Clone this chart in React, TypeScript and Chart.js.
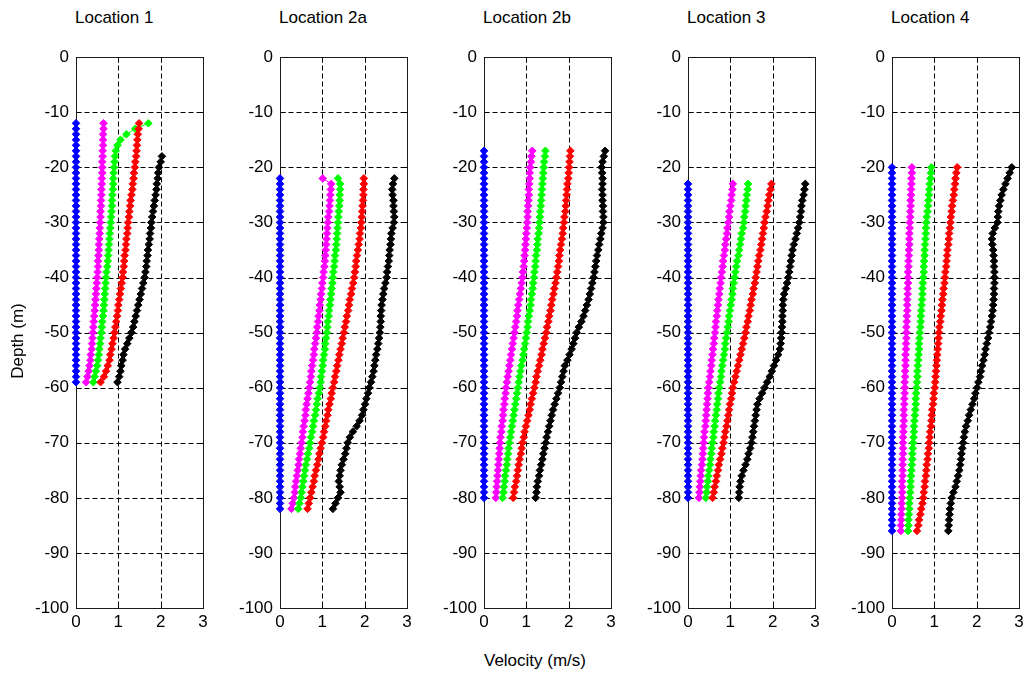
import { useEffect, useRef } from "react";
import { Chart, registerables } from "chart.js";
Chart.register(...registerables);

// ---------- data ----------
const locationTitles = ["Location 1", "Location 2a", "Location 2b", "Location 3", "Location 4"];
const xTickValues = [0, 1, 2, 3];
const yTickValues = [0, -10, -20, -30, -40, -50, -60, -70, -80, -90, -100];
const seriesColors = ["#0000ff", "#ff00ff", "#00ff00", "#ff0000", "#000000"];

// Location 1
const depth1 = [-12,-13,-14,-15,-16,-17,-18,-19,-20,-21,-22,-23,-24,-25,-26,-27,-28,-29,-30,-31,-32,-33,-34,-35,-36,-37,-38,-39,-40,-41,-42,-43,-44,-45,-46,-47,-48,-49,-50,-51,-52,-53,-54,-55,-56,-57,-58,-59];
const depth1Black = [-18,-19,-20,-21,-22,-23,-24,-25,-26,-27,-28,-29,-30,-31,-32,-33,-34,-35,-36,-37,-38,-39,-40,-41,-42,-43,-44,-45,-46,-47,-48,-49,-50,-51,-52,-53,-54,-55,-56,-57,-58,-59];
const blue1 = [0,0,0,0,0,0,0,0,0,0, 0,0,0,0,0,0,0,0,0,0, 0,0,0,0,0,0,0,0,0,0, 0,0,0,0,0,0,0,0,0,0, 0,0,0,0,0,0,0,0];
const magenta1 = [0.65,0.65,0.64,0.64,0.64,0.63,0.63,0.62,0.62, 0.62,0.61,0.61,0.60,0.60,0.59,0.59,0.58,0.58,0.57, 0.56,0.56,0.55,0.54,0.54,0.53,0.52,0.52,0.51,0.50, 0.49,0.48,0.47,0.46,0.45,0.44,0.43,0.42,0.41,0.40, 0.39,0.38,0.37,0.35,0.34,0.32,0.30,0.27,0.24];
const green1 = [1.71,1.40,1.19,1.05,0.98,0.94,0.92,0.91,0.90, 0.89,0.88,0.88,0.87,0.86,0.85,0.85,0.84,0.83,0.82, 0.81,0.80,0.79,0.78,0.77,0.76,0.75,0.74,0.72,0.71, 0.70,0.69,0.68,0.67,0.66,0.65,0.64,0.62,0.61,0.60, 0.58,0.57,0.55,0.54,0.52,0.50,0.47,0.44,0.41];
const red1 = [1.49,1.48,1.46,1.45,1.44,1.43,1.42,1.40,1.39, 1.37,1.36,1.34,1.33,1.31,1.29,1.28,1.26,1.25,1.23, 1.22,1.21,1.19,1.18,1.17,1.15,1.14,1.13,1.11,1.10, 1.08,1.06,1.04,1.02,1.00,0.99,0.97,0.95,0.93,0.91, 0.89,0.86,0.84,0.81,0.79,0.75,0.71,0.66,0.58];
const black1 = [2.03,2.00,1.96, 1.94,1.93,1.91,1.90,1.88,1.86,1.84,1.82,1.80,1.78, 1.77,1.75,1.74,1.72,1.70,1.69,1.67,1.66,1.64,1.62, 1.59,1.56,1.53,1.50,1.47,1.44,1.41,1.38,1.35,1.31, 1.26,1.21,1.16,1.12,1.10,1.07,1.05,1.02,0.98];

// Location 2a
const depth2a = [-22,-23,-24,-25,-26,-27,-28,-29,-30,-31,-32,-33,-34,-35,-36,-37,-38,-39,-40,-41,-42,-43,-44,-45,-46,-47,-48,-49,-50,-51,-52,-53,-54,-55,-56,-57,-58,-59,-60,-61,-62,-63,-64,-65,-66,-67,-68,-69,-70,-71,-72,-73,-74,-75,-76,-77,-78,-79,-80,-81,-82];
const blue2a = [0,0,0,0,0,0,0,0,0,0, 0,0,0,0,0,0,0,0,0,0, 0,0,0,0,0,0,0,0,0,0, 0,0,0,0,0,0,0,0,0,0, 0,0,0,0,0,0,0,0,0,0, 0,0,0,0,0,0,0,0,0,0, 0];
const magenta2a = [1.01,1.21,1.20,1.19,1.18,1.17,1.16,1.14,1.13, 1.12,1.11,1.10,1.09,1.08,1.07,1.06,1.05,1.03,1.02, 1.00,0.99,0.97,0.96,0.94,0.93,0.91,0.90,0.88,0.87, 0.85,0.83,0.81,0.80,0.78,0.76,0.74,0.73,0.71,0.69, 0.67,0.65,0.63,0.61,0.60,0.58,0.56,0.54,0.53,0.51, 0.49,0.47,0.45,0.44,0.42,0.40,0.38,0.36,0.35,0.33, 0.30,0.27];
const green2a = [1.37,1.42,1.42,1.41,1.41,1.40,1.39,1.38,1.37, 1.36,1.35,1.34,1.33,1.32,1.30,1.29,1.28,1.26,1.25, 1.24,1.22,1.21,1.19,1.18,1.16,1.15,1.13,1.12,1.11, 1.09,1.07,1.06,1.04,1.02,1.01,0.99,0.97,0.96,0.94, 0.92,0.89,0.87,0.85,0.83,0.80,0.78,0.76,0.73,0.71, 0.69,0.66,0.64,0.61,0.59,0.57,0.55,0.53,0.51,0.49, 0.46,0.43];
const red2a = [1.98,1.98,1.97,1.97,1.96,1.95,1.94,1.93,1.92, 1.91,1.89,1.88,1.86,1.84,1.82,1.80,1.79,1.77,1.75, 1.73,1.70,1.68,1.65,1.63,1.61,1.58,1.56,1.53,1.51, 1.48,1.46,1.43,1.40,1.38,1.35,1.33,1.30,1.28,1.25, 1.22,1.20,1.17,1.14,1.12,1.09,1.07,1.04,1.02,0.99, 0.96,0.93,0.91,0.88,0.85,0.82,0.80,0.77,0.74,0.71, 0.68,0.65];
const black2a = [2.70,2.67,2.65,2.66,2.68,2.68,2.69,2.70,2.69, 2.66,2.63,2.62,2.61,2.59,2.58,2.57,2.55,2.53,2.52, 2.49,2.46,2.44,2.42,2.40,2.39,2.38,2.38,2.37,2.36, 2.34,2.32,2.30,2.27,2.25,2.23,2.21,2.18,2.15,2.11, 2.08,2.04,2.01,1.97,1.94,1.88,1.81,1.72,1.65,1.60, 1.57,1.54,1.50,1.46,1.43,1.41,1.39,1.41,1.43,1.37, 1.31,1.25];

// Location 2b
const depth2b = [-17,-18,-19,-20,-21,-22,-23,-24,-25,-26,-27,-28,-29,-30,-31,-32,-33,-34,-35,-36,-37,-38,-39,-40,-41,-42,-43,-44,-45,-46,-47,-48,-49,-50,-51,-52,-53,-54,-55,-56,-57,-58,-59,-60,-61,-62,-63,-64,-65,-66,-67,-68,-69,-70,-71,-72,-73,-74,-75,-76,-77,-78,-79,-80];
const blue2b = [0,0,0,0, 0,0,0,0,0,0,0,0,0,0, 0,0,0,0,0,0,0,0,0,0, 0,0,0,0,0,0,0,0,0,0, 0,0,0,0,0,0,0,0,0,0, 0,0,0,0,0,0,0,0,0,0, 0,0,0,0,0,0,0,0,0,0];
const magenta2b = [1.14,1.12,1.11,1.09, 1.08,1.08,1.07,1.06,1.06,1.05,1.04,1.03,1.03,1.02, 1.01,1.00,0.99,0.98,0.97,0.96,0.95,0.94,0.92,0.91, 0.89,0.87,0.85,0.83,0.81,0.79,0.78,0.76,0.74,0.72, 0.70,0.68,0.66,0.64,0.62,0.60,0.58,0.56,0.54,0.52, 0.51,0.49,0.48,0.46,0.45,0.44,0.42,0.41,0.39,0.38, 0.37,0.36,0.35,0.34,0.33,0.32,0.31,0.30,0.29,0.28];
const green2b = [1.45,1.44,1.42,1.41, 1.40,1.39,1.38,1.37,1.36,1.35,1.34,1.33,1.32,1.31, 1.30,1.29,1.27,1.26,1.25,1.23,1.22,1.21,1.19,1.18, 1.16,1.15,1.13,1.11,1.10,1.08,1.06,1.04,1.03,1.01, 0.99,0.97,0.95,0.93,0.91,0.88,0.86,0.84,0.82,0.80, 0.78,0.76,0.74,0.72,0.70,0.68,0.66,0.64,0.62,0.60, 0.58,0.57,0.55,0.54,0.52,0.50,0.49,0.47,0.46,0.44];
const red2b = [2.04,2.03,2.02,2.01, 2.00,1.99,1.97,1.96,1.95,1.94,1.93,1.92,1.90,1.89, 1.87,1.86,1.84,1.82,1.80,1.78,1.77,1.75,1.73,1.71, 1.69,1.66,1.64,1.61,1.59,1.57,1.54,1.52,1.49,1.47, 1.44,1.41,1.38,1.36,1.33,1.30,1.27,1.24,1.22,1.19, 1.16,1.13,1.10,1.08,1.05,1.02,0.99,0.96,0.94,0.91, 0.89,0.87,0.84,0.82,0.80,0.78,0.76,0.73,0.71,0.69];
const black2b = [2.86,2.83,2.80,2.78, 2.79,2.80,2.80,2.79,2.80,2.80,2.81,2.81,2.82,2.82, 2.80,2.77,2.75,2.72,2.70,2.67,2.65,2.63,2.61,2.59, 2.56,2.53,2.50,2.47,2.43,2.39,2.35,2.30,2.24,2.19, 2.15,2.11,2.07,2.02,1.97,1.91,1.88,1.85,1.82,1.79, 1.75,1.71,1.67,1.63,1.60,1.57,1.54,1.51,1.48,1.46, 1.43,1.40,1.38,1.35,1.32,1.30,1.27,1.25,1.24,1.22];

// Location 3
const depth3 = [-23,-24,-25,-26,-27,-28,-29,-30,-31,-32,-33,-34,-35,-36,-37,-38,-39,-40,-41,-42,-43,-44,-45,-46,-47,-48,-49,-50,-51,-52,-53,-54,-55,-56,-57,-58,-59,-60,-61,-62,-63,-64,-65,-66,-67,-68,-69,-70,-71,-72,-73,-74,-75,-76,-77,-78,-79,-80];
const blue3 = [0,0,0,0,0,0,0,0, 0,0,0,0,0,0,0,0,0,0, 0,0,0,0,0,0,0,0,0,0, 0,0,0,0,0,0,0,0,0,0, 0,0,0,0,0,0,0,0,0,0, 0,0,0,0,0,0,0,0,0,0];
const magenta3 = [1.06,1.05,1.03,1.02,1.00,0.98,0.97,0.95, 0.93,0.92,0.90,0.88,0.87,0.85,0.83,0.82,0.80,0.78, 0.77,0.75,0.74,0.72,0.71,0.69,0.68,0.66,0.65,0.64, 0.62,0.61,0.59,0.58,0.56,0.55,0.53,0.52,0.50,0.48, 0.47,0.46,0.45,0.44,0.43,0.42,0.41,0.39,0.38,0.37, 0.36,0.35,0.34,0.33,0.31,0.30,0.29,0.28,0.27,0.26];
const green3 = [1.42,1.41,1.39,1.38,1.36,1.35,1.33,1.32, 1.30,1.27,1.25,1.23,1.21,1.19,1.16,1.14,1.12,1.10, 1.08,1.06,1.05,1.03,1.01,0.99,0.97,0.96,0.94,0.92, 0.90,0.88,0.87,0.85,0.83,0.81,0.79,0.78,0.76,0.74, 0.72,0.71,0.69,0.68,0.66,0.64,0.63,0.61,0.60,0.58, 0.56,0.55,0.53,0.52,0.50,0.48,0.47,0.45,0.44,0.42];
const red3 = [1.97,1.95,1.92,1.90,1.88,1.86,1.83,1.81, 1.79,1.77,1.75,1.73,1.71,1.68,1.66,1.64,1.62,1.60, 1.58,1.55,1.53,1.50,1.48,1.46,1.43,1.41,1.38,1.36, 1.33,1.30,1.27,1.24,1.21,1.18,1.15,1.12,1.09,1.06, 1.04,1.02,0.99,0.97,0.95,0.93,0.91,0.88,0.86,0.84, 0.81,0.79,0.76,0.73,0.71,0.68,0.66,0.63,0.61,0.58];
const black3 = [2.77,2.75,2.73,2.70,2.68,2.67,2.65,2.63, 2.60,2.57,2.54,2.50,2.47,2.45,2.43,2.41,2.39,2.37, 2.34,2.31,2.27,2.25,2.24,2.24,2.23,2.23,2.22,2.21, 2.20,2.19,2.17,2.13,2.08,2.03,1.98,1.93,1.87,1.81, 1.75,1.69,1.64,1.62,1.60,1.58,1.56,1.54,1.52,1.50, 1.47,1.43,1.40,1.36,1.31,1.27,1.24,1.22,1.21,1.20];

// Location 4
const depth4 = [-20,-21,-22,-23,-24,-25,-26,-27,-28,-29,-30,-31,-32,-33,-34,-35,-36,-37,-38,-39,-40,-41,-42,-43,-44,-45,-46,-47,-48,-49,-50,-51,-52,-53,-54,-55,-56,-57,-58,-59,-60,-61,-62,-63,-64,-65,-66,-67,-68,-69,-70,-71,-72,-73,-74,-75,-76,-77,-78,-79,-80,-81,-82,-83,-84,-85,-86];
const blue4 = [0, 0,0,0,0,0,0,0,0,0,0, 0,0,0,0,0,0,0,0,0,0, 0,0,0,0,0,0,0,0,0,0, 0,0,0,0,0,0,0,0,0,0, 0,0,0,0,0,0,0,0,0,0, 0,0,0,0,0,0,0,0,0,0, 0,0,0,0,0,0];
const magenta4 = [0.47, 0.47,0.46,0.46,0.45,0.45,0.44,0.44,0.43,0.43,0.42, 0.42,0.41,0.41,0.41,0.40,0.40,0.39,0.39,0.38,0.38, 0.38,0.37,0.37,0.36,0.36,0.36,0.35,0.35,0.34,0.34, 0.34,0.33,0.33,0.32,0.32,0.32,0.31,0.31,0.30,0.30, 0.30,0.29,0.29,0.28,0.28,0.28,0.27,0.27,0.26,0.26, 0.26,0.26,0.25,0.25,0.25,0.25,0.24,0.24,0.24,0.24, 0.23,0.23,0.22,0.22,0.21,0.21];
const green4 = [0.93, 0.92,0.91,0.89,0.88,0.87,0.86,0.85,0.84,0.82,0.81, 0.80,0.80,0.79,0.78,0.77,0.77,0.76,0.75,0.75,0.74, 0.73,0.72,0.72,0.71,0.70,0.69,0.68,0.68,0.67,0.66, 0.65,0.64,0.64,0.63,0.62,0.61,0.60,0.60,0.59,0.58, 0.57,0.56,0.56,0.55,0.54,0.53,0.52,0.52,0.51,0.50, 0.49,0.48,0.48,0.47,0.46,0.45,0.44,0.44,0.43,0.42, 0.41,0.41,0.40,0.39,0.39,0.38];
const red4 = [1.54, 1.52,1.50,1.49,1.47,1.46,1.44,1.42,1.41,1.39,1.38, 1.37,1.35,1.34,1.33,1.31,1.30,1.29,1.28,1.26,1.25, 1.24,1.22,1.21,1.19,1.18,1.17,1.15,1.14,1.12,1.11, 1.10,1.09,1.08,1.07,1.06,1.05,1.04,1.03,1.02,1.01, 0.99,0.98,0.97,0.95,0.94,0.93,0.92,0.90,0.89,0.88, 0.87,0.85,0.84,0.82,0.81,0.80,0.78,0.77,0.75,0.74, 0.72,0.69,0.67,0.64,0.62,0.59];
const black4 = [2.83, 2.78,2.73,2.68,2.63,2.59,2.56,2.53,2.51,2.50,2.49, 2.43,2.38,2.36,2.37,2.39,2.40,2.41,2.41,2.42,2.42, 2.42,2.41,2.41,2.40,2.39,2.38,2.36,2.34,2.32,2.29, 2.27,2.24,2.21,2.19,2.16,2.13,2.10,2.08,2.04,2.01, 1.97,1.94,1.90,1.86,1.82,1.79,1.75,1.72,1.70,1.68, 1.66,1.64,1.63,1.61,1.59,1.56,1.53,1.50,1.45,1.41, 1.39,1.37,1.36,1.35,1.34,1.33];

// each panel: list of [velocities, depths] in colour order blue, magenta, green, red, black
const panels = [
  [[blue1, depth1], [magenta1, depth1], [green1, depth1], [red1, depth1], [black1, depth1Black]],
  [[blue2a, depth2a], [magenta2a, depth2a], [green2a, depth2a], [red2a, depth2a], [black2a, depth2a]],
  [[blue2b, depth2b], [magenta2b, depth2b], [green2b, depth2b], [red2b, depth2b], [black2b, depth2b]],
  [[blue3, depth3], [magenta3, depth3], [green3, depth3], [red3, depth3], [black3, depth3]],
  [[blue4, depth4], [magenta4, depth4], [green4, depth4], [red4, depth4], [black4, depth4]],
];

// ---------- layout ----------
const FONT = "'Liberation Sans', Arial, Helvetica, sans-serif";
const PLOT_LEFTS = [76, 280, 484, 688, 892];
const PLOT_W = 127;
const PLOT_TOP = 52;
const PLOT_H = 556;
const AXIS_W = 56;
const PAD_TOP = 12;
const PAD_RIGHT = 12;
const XAXIS_H = 32;
const CANVAS_W = AXIS_W + PLOT_W + PAD_RIGHT;
const CANVAS_H = PAD_TOP + PLOT_H + XAXIS_H;

const framePlugin = {
  id: "matlabFrame",
  beforeDatasetsDraw(chart: any) {
    const { ctx, chartArea, scales } = chart;
    const xs = scales.x;
    const ys = scales.y;
    const l = Math.round(chartArea.left) + 0.5;
    const r = Math.round(chartArea.right) + 0.5;
    const t = Math.round(chartArea.top) + 0.5;
    const b = Math.round(chartArea.bottom) + 0.5;
    ctx.save();
    ctx.strokeStyle = "#000";
    ctx.lineWidth = 1;
    // dashed grid
    ctx.setLineDash([5, 3]);
    xTickValues.slice(1, -1).forEach((v) => {
      const px = Math.round(xs.getPixelForValue(v)) + 0.5;
      ctx.beginPath();
      ctx.moveTo(px, t);
      ctx.lineTo(px, b);
      ctx.stroke();
    });
    yTickValues.slice(1, -1).forEach((v) => {
      const py = Math.round(ys.getPixelForValue(v)) + 0.5;
      ctx.beginPath();
      ctx.moveTo(l, py);
      ctx.lineTo(r, py);
      ctx.stroke();
    });
    // inward ticks
    ctx.setLineDash([]);
    const tl = 5;
    xTickValues.slice(1, -1).forEach((v) => {
      const px = Math.round(xs.getPixelForValue(v)) + 0.5;
      ctx.beginPath();
      ctx.moveTo(px, t); ctx.lineTo(px, t + tl);
      ctx.moveTo(px, b); ctx.lineTo(px, b - tl);
      ctx.stroke();
    });
    yTickValues.slice(1, -1).forEach((v) => {
      const py = Math.round(ys.getPixelForValue(v)) + 0.5;
      ctx.beginPath();
      ctx.moveTo(l, py); ctx.lineTo(l + tl, py);
      ctx.moveTo(r, py); ctx.lineTo(r - tl, py);
      ctx.stroke();
    });
    // box
    ctx.strokeStyle = "#1a1a1a";
    ctx.strokeRect(l, t, r - l, b - t);
    ctx.restore();
  },
};

function Panel({ index }: { index: number }) {
  const ref = useRef<HTMLCanvasElement | null>(null);
  useEffect(() => {
    const series = panels[index];
    const chart = new Chart(ref.current as HTMLCanvasElement, {
      type: "scatter",
      data: {
        datasets: series.map(([vals, depths]: any, si: number) => ({
          data: (vals as number[]).map((v, i) => ({ x: v, y: (depths as number[])[i] })),
          borderColor: seriesColors[si],
          backgroundColor: seriesColors[si],
          showLine: true,
          borderWidth: 1,
          pointStyle: "rectRot",
          pointRadius: 3.8,
          pointBorderWidth: 1,
          pointHoverRadius: 3.8,
          tension: 0,
          clip: false,
          order: 5 - si,
        })),
      },
      options: {
        animation: false,
        responsive: false,
        devicePixelRatio: 1,
        events: [],
        layout: { padding: { top: PAD_TOP, right: PAD_RIGHT, left: 0, bottom: 0 } },
        plugins: { legend: { display: false }, tooltip: { enabled: false }, title: { display: false } },
        scales: {
          x: {
            type: "linear",
            min: 0,
            max: 3,
            afterBuildTicks: (s: any) => { s.ticks = xTickValues.map((v) => ({ value: v })); },
            ticks: { color: "#000", padding: 4, font: { family: FONT, size: 17 }, maxRotation: 0 },
            grid: { display: false, drawTicks: false },
            border: { display: false },
            afterFit: (s: any) => { s.height = XAXIS_H; },
          },
          y: {
            type: "linear",
            min: -100,
            max: 0,
            afterBuildTicks: (s: any) => { s.ticks = yTickValues.map((v) => ({ value: v })); },
            ticks: { color: "#000", padding: 7, font: { family: FONT, size: 17 } },
            grid: { display: false, drawTicks: false },
            border: { display: false },
            afterFit: (s: any) => { s.width = AXIS_W; },
          },
        },
      },
      plugins: [framePlugin],
    } as any);
    return () => chart.destroy();
  }, [index]);
  return (
    <canvas
      ref={ref}
      width={CANVAS_W}
      height={CANVAS_H}
      style={{
        position: "absolute",
        left: PLOT_LEFTS[index] - AXIS_W,
        top: PLOT_TOP - PAD_TOP,
        width: CANVAS_W,
        height: CANVAS_H,
      }}
    />
  );
}

export default function App() {
  return (
    <div
      style={{
        position: "fixed",
        left: 0,
        top: 0,
        width: 1025,
        height: 673,
        background: "#fff",
        fontFamily: FONT,
        color: "#000",
        overflow: "hidden",
      }}
    >
      {locationTitles.map((t, i) => (
        <div
          key={t}
          style={{
            position: "absolute",
            left: PLOT_LEFTS[i] - 1,
            top: 8,
            fontSize: 17,
            lineHeight: "20px",
            whiteSpace: "nowrap",
          }}
        >
          {t}
        </div>
      ))}
      {locationTitles.map((_, i) => (
        <Panel key={i} index={i} />
      ))}
      <div
        style={{
          position: "absolute",
          left: 535 - 100,
          width: 200,
          top: 651,
          textAlign: "center",
          fontSize: 17,
          lineHeight: "20px",
          whiteSpace: "nowrap",
        }}
      >
        Velocity (m/s)
      </div>
      <div
        style={{
          position: "absolute",
          left: 18 - 100,
          top: 341 - 10,
          width: 200,
          height: 20,
          textAlign: "center",
          fontSize: 17,
          lineHeight: "20px",
          whiteSpace: "nowrap",
          transform: "rotate(-90deg)",
          transformOrigin: "50% 50%",
        }}
      >
        Depth (m)
      </div>
    </div>
  );
}
